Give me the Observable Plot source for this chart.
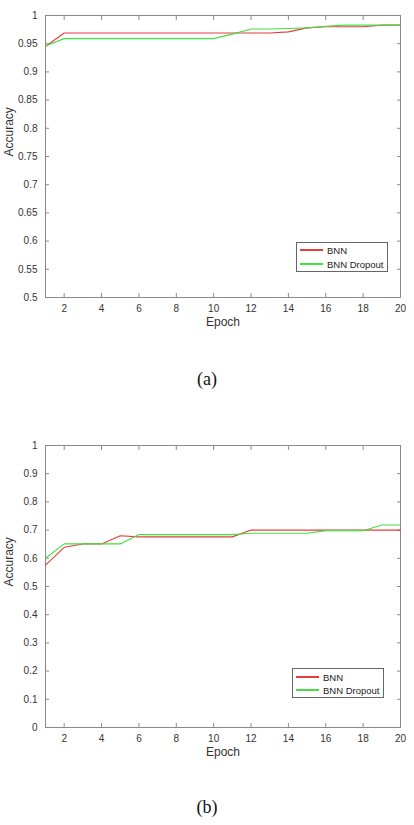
<!DOCTYPE html>
<html><head><meta charset="utf-8">
<script src="https://cdn.jsdelivr.net/npm/d3@7"></script>
<script src="https://cdn.jsdelivr.net/npm/@observablehq/plot@0.6"></script>
<style>
body{margin:0;background:#fff;width:414px;height:825px;position:relative;overflow:hidden;font-family:"Liberation Sans",Arial,sans-serif;}
.chart{position:absolute;left:0;}
.caption{position:absolute;left:0;width:414px;height:20px;line-height:20px;text-align:center;font-family:"Liberation Serif","Times New Roman",serif;font-size:18px;color:#111;}
.legend{position:absolute;border:1px solid #666;background:#fff;box-sizing:border-box;font-size:9.5px;color:#222;width:92px;height:30px;}
.legend .row{position:absolute;left:0;height:12px;display:flex;align-items:center;white-space:nowrap;}
.legend .sw{display:inline-block;width:23px;height:1.2px;margin-left:3px;margin-right:4px;}
</style></head>
<body>
<div id="chartA" class="chart" style="top:0px"></div>
<div class="caption" style="top:369px">(a)</div>
<div id="chartB" class="chart" style="top:430px"></div>
<div class="caption" style="top:797px">(b)</div>
<script>
const epochs = [1,2,3,4,5,6,7,8,9,10,11,12,13,14,15,16,17,18,19,20];
const seriesNames = ["BNN", "BNN Dropout"];
const seriesColors = ["#e83c3c", "#42e042"];
const xTicks = [2,4,6,8,10,12,14,16,18,20];

// (a)
const accA_bnn  = [0.945,0.969,0.969,0.969,0.969,0.969,0.969,0.969,0.969,0.969,0.969,0.969,0.969,0.971,0.978,0.980,0.980,0.980,0.983,0.983];
const accA_drop = [0.946,0.959,0.959,0.959,0.959,0.959,0.959,0.959,0.959,0.959,0.967,0.976,0.976,0.977,0.978,0.981,0.983,0.983,0.983,0.983];
const yTicksA = [0.5,0.55,0.6,0.65,0.7,0.75,0.8,0.85,0.9,0.95,1];

// (b)
const accB_bnn  = [0.576,0.639,0.651,0.651,0.680,0.676,0.676,0.676,0.676,0.676,0.676,0.700,0.700,0.700,0.700,0.700,0.700,0.700,0.700,0.700];
const accB_drop = [0.600,0.651,0.651,0.651,0.651,0.684,0.684,0.684,0.684,0.684,0.684,0.689,0.689,0.689,0.689,0.698,0.698,0.698,0.718,0.718];
const yTicksB = [0,0.1,0.2,0.3,0.4,0.5,0.6,0.7,0.8,0.9,1];

const fmt = d => String(+(+d).toFixed(2));
const axisGray = "#8a8a8a";
const textGray = "#333";

function makeChart(bnn, drop, yTicks) {
  const table = [];
  epochs.forEach((e, i) => {
    table.push({epoch: e, acc: bnn[i], series: seriesNames[0]});
    table.push({epoch: e, acc: drop[i], series: seriesNames[1]});
  });
  return Plot.plot({
    width: 414, height: 340, marginTop: 15, marginBottom: 43, marginLeft: 45, marginRight: 14,
    style: {fontFamily: "'Liberation Sans', Arial, sans-serif", fontSize: "10px", background: "transparent"},
    x: {domain: [epochs[0], epochs[epochs.length - 1]]},
    y: {domain: [yTicks[0], yTicks[yTicks.length - 1]]},
    color: {domain: seriesNames, range: seriesColors},
    marks: [
      Plot.frame({stroke: axisGray}),
      Plot.axisX({ticks: xTicks, anchor: "bottom", tickSize: -4, tickPadding: 11, stroke: axisGray, fill: textGray, label: null, fontSize: 10}),
      Plot.axisX({ticks: xTicks, anchor: "top", tickSize: -4, stroke: axisGray, fill: "none", tickFormat: () => "", label: null}),
      Plot.axisY({ticks: yTicks, anchor: "left", tickSize: -4, tickPadding: 12, stroke: axisGray, fill: textGray, tickFormat: fmt, label: null, fontSize: 10}),
      Plot.axisY({ticks: yTicks, anchor: "right", tickSize: -4, stroke: axisGray, fill: "none", tickFormat: () => "", label: null}),
      Plot.line(table, {x: "epoch", y: "acc", z: "series", stroke: "series", strokeWidth: 1.1}),
      Plot.text(["Epoch"], {text: d => d, frameAnchor: "bottom", dy: 28, fontSize: 12, fill: textGray}),
      Plot.text(["Accuracy"], {text: d => d, frameAnchor: "left", dx: -36, rotate: -90, fontSize: 12, fill: textGray})
    ]
  });
}

function makeLegend(left, top, rowTops) {
  const lg = document.createElement("div");
  lg.className = "legend";
  lg.style.left = left + "px"; lg.style.top = top + "px";
  seriesNames.forEach((name, i) => {
    const row = document.createElement("div");
    row.className = "row"; row.style.top = rowTops[i] + "px";
    const sw = document.createElement("span");
    sw.className = "sw"; sw.style.background = seriesColors[i];
    const tx = document.createElement("span"); tx.textContent = name;
    row.appendChild(sw); row.appendChild(tx); lg.appendChild(row);
  });
  document.body.appendChild(lg);
}

document.getElementById("chartA").appendChild(makeChart(accA_bnn, accA_drop, yTicksA));
document.getElementById("chartB").appendChild(makeChart(accB_bnn, accB_drop, yTicksB));
makeLegend(296, 242, [1, 15]);
makeLegend(292, 668, [2, 15]);
</script>
</body></html>
